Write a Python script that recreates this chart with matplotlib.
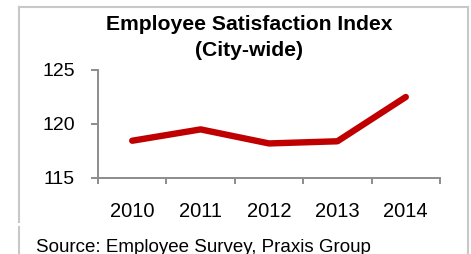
from matplotlib import pyplot as plt
from matplotlib.lines import Line2D

# Employee Satisfaction Index (City-wide)

years = ["2010", "2011", "2012", "2013", "2014"]
index_values = [118.45, 119.5, 118.2, 118.4, 122.5]

y_ticks = [115, 120, 125]

plt.rcParams['font.family'] = ['Liberation Sans', 'DejaVu Sans']

fig = plt.figure(figsize=(4.71, 2.54), dpi=100)
ax = fig.add_axes([98 / 471, 1 - 178 / 254, 342 / 471, 108 / 254])

x = list(range(len(years)))
ax.plot(x, index_values, color='#C00000', linewidth=4.6, solid_capstyle='round',
        solid_joinstyle='round')

ax.set_xlim(-0.5, len(years) - 0.5)
ax.set_ylim(115, 125)
ax.set_yticks(y_ticks)
ax.set_xticks([i - 0.5 for i in range(len(years) + 1)], minor=False)
ax.set_xticklabels([])
ax.set_xticks(x, minor=True)
ax.set_xticklabels(years, minor=True)

for side in ['top', 'right']:
    ax.spines[side].set_visible(False)
for side in ['left', 'bottom']:
    ax.spines[side].set_color('#8c8c8c')
    ax.spines[side].set_linewidth(1.4)

ax.tick_params(axis='y', which='major', direction='out', length=5, width=1.4,
               color='#8c8c8c', labelsize=14, pad=11.5, labelcolor='black')
ax.tick_params(axis='x', which='major', direction='out', length=4, width=1.4,
               color='#8c8c8c')
ax.tick_params(axis='x', which='minor', length=0, labelsize=14.5, pad=17,
               labelcolor='black')

# Title
fig.text(249 / 471, 1 - 25 / 254, "Employee Satisfaction Index", ha='center', va='center',
         fontsize=15.2, fontweight='bold')
fig.text(249 / 471, 1 - 50 / 254, "(City-wide)", ha='center', va='center',
         fontsize=15.2, fontweight='bold')

# Source note
fig.text(36 / 471, 1 - 252 / 254, "Source: Employee Survey, Praxis Group", ha='left',
         va='baseline', fontsize=13.5)

# Frame around the chart
frame = '#c8c8c8'
fig.add_artist(Line2D([19 / 471, 468 / 471], [1 - 7 / 254, 1 - 7 / 254], color=frame, lw=1.5))
fig.add_artist(Line2D([468 / 471, 468 / 471], [1 - 7 / 254, 0], color=frame, lw=1.5))
fig.add_artist(Line2D([19 / 471, 19 / 471], [1 - 7 / 254, 1 - 222 / 254], color=frame, lw=1.5))
fig.add_artist(Line2D([19 / 471, 19 / 471], [1 - 227 / 254, 0], color=frame, lw=1.5))

plt.savefig('out.png', dpi=100)
